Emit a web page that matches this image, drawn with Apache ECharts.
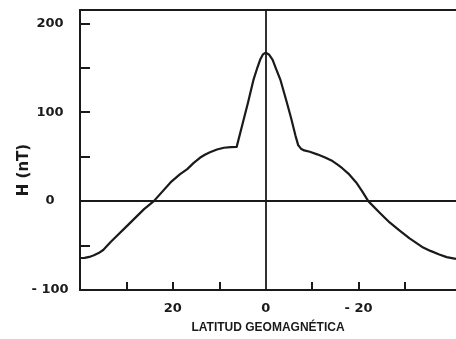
<!DOCTYPE html>
<html>
<head>
<meta charset="utf-8">
<script src="https://cdn.jsdelivr.net/npm/echarts@6/dist/echarts.min.js"></script>
<style>
  html, body { margin: 0; padding: 0; background: #fff; }
  #chart { width: 456px; height: 339px; }
</style>
</head>
<body>
<div id="chart"></div>
<script>
// geomagnetic latitude (deg) and H (nT)
const latitudes = [40, 39, 38, 37, 36, 35, 33.4, 29.8, 26.2, 24.1, 20.5, 18.5, 16.9, 15.5, 14.1, 13, 12, 10.5, 9, 7.5, 6.25,
  5, 3.8, 2.6, 1.8, 1.2, 0.6, 0, -0.7, -1.5, -2.3, -3.2, -4.5, -5.5, -6.4, -7.0, -7.6, -8.3, -9.5, -11.1, -12.8, -14.4, -15.5,
  -16.5, -18, -19.5, -20.8, -22.1, -24.5, -26.7, -28.8, -31, -33.7, -35.5, -37.4, -39, -41];
const fieldH = [-64, -63.8, -62.8, -61, -58.5, -55, -46, -27.6, -9, 0, 21, 30, 36, 43, 49, 52.5, 55, 58, 60, 60.8, 61,
  86.5, 111, 137, 150, 159, 165, 167, 165, 159, 148, 136, 112, 93, 74, 63, 59, 57, 55.5, 52.6, 49, 45, 41,
  37, 30, 21, 11, 0, -12.7, -24, -33, -42, -51.5, -56, -60, -63, -65];

const xTicks = [30, 20, 10, -10, -20, -30];
const xLabels = [20, 0, -20];
const yTicks = [200, 150, 100, 50, -50];
const yLabels = [200, 100, 0, -100];

const chart = echarts.init(document.getElementById('chart'));

const lineColor = '#1a1a1a';
const fmt = function (v) { return v < 0 ? '- ' + Math.abs(v) : String(v); };

const option = {
  backgroundColor: '#fff',
  animation: false,
  grid: { left: 80, right: 0, top: 10, bottom: 48 },
  xAxis: [{
    type: 'value',
    min: -41,
    max: 40,
    inverse: true,
    name: 'LATITUD GEOMAGNÉTICA',
    nameLocation: 'middle',
    nameGap: 32,
    nameTextStyle: { fontFamily: 'Liberation Sans', fontWeight: 'bold', fontSize: 12, color: '#1a1a1a' },
    axisLine: { show: true, onZero: false, lineStyle: { color: lineColor, width: 2 } },
    axisTick: { show: true, inside: true, length: 8, customValues: xTicks, lineStyle: { color: lineColor, width: 2 } },
    axisLabel: {
      customValues: xLabels,
      formatter: fmt,
      margin: 12,
      fontFamily: 'DejaVu Sans', fontWeight: 'bold', fontSize: 13, color: '#1a1a1a'
    },
    splitLine: { show: false }
  }, {
    type: 'value',
    position: 'top',
    min: -41,
    max: 40,
    inverse: true,
    axisLine: { show: true, onZero: false, lineStyle: { color: lineColor, width: 2 } },
    axisTick: { show: false },
    axisLabel: { show: false },
    splitLine: { show: false }
  }],
  yAxis: {
    type: 'value',
    min: -100,
    max: 215,
    axisLine: { show: true, onZero: false, lineStyle: { color: lineColor, width: 2 } },
    axisTick: { show: true, inside: true, length: 10, customValues: yTicks, lineStyle: { color: lineColor, width: 2 } },
    axisLabel: {
      customValues: yLabels,
      formatter: fmt,
      align: 'center',
      margin: 30,
      padding: [6, 0, 0, 0],
      fontFamily: 'DejaVu Sans', fontWeight: 'bold', fontSize: 13, color: '#1a1a1a'
    },
    splitLine: { show: false }
  },
  graphic: [{
    type: 'text',
    x: 24,
    y: 170,
    rotation: Math.PI / 2,
    style: {
      text: 'H (nT)',
      fontFamily: 'DejaVu Sans', fontWeight: 'bold', fontSize: 15, fill: '#1a1a1a',
      align: 'center', verticalAlign: 'middle'
    }
  }],
  series: [{
    type: 'line',
    data: latitudes.map(function (lat, i) { return [lat, fieldH[i]]; }),
    showSymbol: false,
    smooth: false,
    lineStyle: { color: lineColor, width: 2.2, join: 'round' },
    markLine: {
      silent: true,
      symbol: 'none',
      label: { show: false },
      lineStyle: { color: lineColor, width: 1.8, type: 'solid' },
      data: [{ xAxis: 0 }, { yAxis: 0 }]
    }
  }]
};

chart.setOption(option);
</script>
</body>
</html>
